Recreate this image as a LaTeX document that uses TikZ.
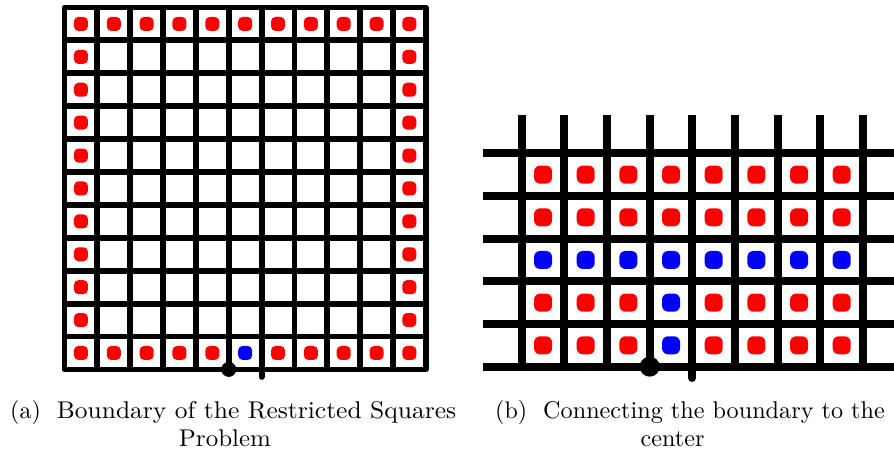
\documentclass[tikz,border=0pt]{standalone}
\usetikzlibrary{calc}
\begin{document}
\begin{tikzpicture}[x=1pt,y=-1pt,
  gridA/.style={line width=5.8pt,line join=round},
  gridB/.style={line width=8pt},
  dotA/.style={rectangle,rounded corners=4.5pt,minimum size=14pt,inner sep=0pt,fill=#1},
  dotB/.style={rectangle,rounded corners=6pt,minimum size=18pt,inner sep=0pt,fill=#1},
  caption/.style={font=\fontsize{10}{12}\selectfont,inner sep=0pt}]
\useasboundingbox (0,0) rectangle (894,449);
% ---------- (a) ----------
\def\ax{64.5}\def\ay{7.5}\def\ap{32.85}\def\aq{32.9}
\foreach \k in {1,...,10}{
  \draw[gridA] ({\ax+\k*\ap},\ay) -- ({\ax+\k*\ap},{\ay+11*\aq});
  \draw[gridA] (\ax,{\ay+\k*\aq}) -- ({\ax+11*\ap},{\ay+\k*\aq});
}
\draw[gridA] (\ax,\ay) rectangle ({\ax+11*\ap},{\ay+11*\aq});
\foreach \i in {0,...,10}{
  \foreach \j in {0,...,10}{
    \pgfmathsetmacro\onb{(\i==0)||(\i==10)||(\j==0)||(\j==10)}
    \ifdim\onb pt>0.5pt
      \pgfmathsetmacro\isblue{(\i==5)&&(\j==10)}
      \ifdim\isblue pt>0.5pt
        \node[dotA=blue] (a-\i-\j) at ({\ax+(\i+0.5)*\ap},{\ay+(\j+0.5)*\aq}) {};
      \else
        \node[dotA=red] (a-\i-\j) at ({\ax+(\i+0.5)*\ap},{\ay+(\j+0.5)*\aq}) {};
      \fi
    \fi
  }
}
\coordinate (aS) at ({\ax+6*\ap},{\ay+11*\aq});
\coordinate (aSe) at ({\ax+6*\ap},377);
\draw[line width=5.8pt,line cap=round] (aS) -- (aSe);
\node[circle,fill=black,minimum size=15pt,inner sep=0pt] (aB) at ({\ax+5*\ap},{\ay+11*\aq}) {};
% ---------- (b) ----------
\def\bx{521.7}\def\by{153.3}\def\bp{42.67}
\foreach \k in {0,...,8}{
  \draw[gridB] ({\bx+\k*\bp},115) -- ({\bx+\k*\bp},371);
}
\foreach \j in {0,...,5}{
  \draw[gridB] (483,{\by+\j*\bp}) -- (900,{\by+\j*\bp});
}
\coordinate (bS) at ({\bx+4*\bp},{\by+5*\bp});
\coordinate (bSe) at ({\bx+4*\bp},378);
\draw[line width=8pt,line cap=round] (bS) -- (bSe);
\foreach \i in {0,...,7}{
  \foreach \j in {0,...,4}{
    \pgfmathsetmacro\isblue{(\j==2)||((\i==3)&&(\j>2))}
    \ifdim\isblue pt>0.5pt
      \node[dotB=blue] (b-\i-\j) at ({\bx+(\i+0.5)*\bp},{\by+(\j+0.5)*\bp}) {};
    \else
      \node[dotB=red] (b-\i-\j) at ({\bx+(\i+0.5)*\bp},{\by+(\j+0.5)*\bp}) {};
    \fi
  }
}
\node[circle,fill=black,minimum size=20pt,inner sep=0pt] (bB) at ({\bx+3*\bp},{\by+5*\bp}) {};
% ---------- captions ----------
\node[caption,anchor=base west] (capa1) at (10,418) {\scalebox{2.4}{(a)}\hspace{16pt}\scalebox{2.55}[2.42]{Boundary of the Restricted Squares}};
\node[caption,anchor=base] (capa2) at (225,446) {\scalebox{2.5}[2.42]{Problem}};
\node[caption,anchor=base west] (capb1) at (495,418) {\scalebox{2.4}{(b)}\hspace{16pt}\scalebox{2.42}{Connecting the boundary to the}};
\node[caption,anchor=base] (capb2) at (672.5,446) {\scalebox{2.42}{center}};
\end{tikzpicture}
\end{document}
